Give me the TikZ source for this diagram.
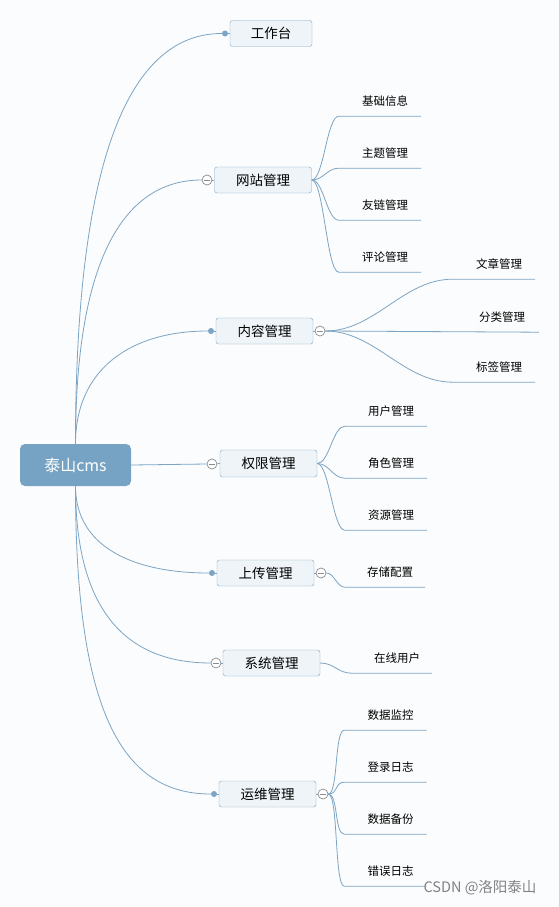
\documentclass[tikz,border=0pt]{standalone}
\usepackage{fontspec}
\setmainfont{Noto Sans CJK SC}
\usetikzlibrary{positioning}
\definecolor{linkc}{RGB}{124,164,196}
\definecolor{boxfill}{RGB}{238,244,248}
\definecolor{boxline}{RGB}{126,166,197}
\definecolor{rootfill}{RGB}{118,163,195}
\definecolor{knobc}{RGB}{140,140,140}
\definecolor{bgc}{RGB}{251,252,253}
\definecolor{markc}{RGB}{130,130,130}

\begin{document}
\begin{tikzpicture}[
x=1pt, y=-1pt,
every node/.style={font=\fontsize{11.5}{13}\selectfont},
root/.style={fill=rootfill, text=white, rounded corners=5pt, minimum width=111pt, minimum height=42pt, inner sep=0pt, font=\fontsize{16}{18}\selectfont},
topic/.style={draw=boxline, fill=boxfill, rounded corners=2.5pt, minimum width=97pt, minimum height=26pt, inner sep=0pt, font=\fontsize{13.5}{15}\selectfont},
leaf/.style={minimum width=82pt, minimum height=30pt, inner sep=0pt, execute at begin node={\hspace*{10pt}}},
dotc/.style={circle, fill=linkc, minimum size=6pt, inner sep=0pt},
knob/.style={circle, draw=knobc, fill=white, minimum size=10pt, inner sep=0pt, line width=0.7pt,
  path picture={\draw[knobc, line width=0.7pt] ([xshift=-3pt]path picture bounding box.center) -- ([xshift=3pt]path picture bounding box.center);}},
link/.style={draw=linkc, line width=0.8pt}
]
\fill[bgc] (0,0) rectangle (559,907);

\node[root] (root) at (75.5,465) {泰山cms};

\node[topic, minimum width=82pt] (work) at (271,33.5) {工作台};
\node[topic] (site) at (263,180) {网站管理};
\node[topic] (content) at (264.5,331) {内容管理};
\node[topic, minimum height=27pt] (perm) at (268.5,463.5) {权限管理};
\node[topic] (upload) at (265.5,573) {上传管理};
\node[topic] (sys) at (271.5,663) {系统管理};
\node[topic] (ops) at (267.5,794) {运维管理};

\node[dotc] (work-d) at (225,33.5) {};
\node[knob] (site-k) at (207,180) {};
\node[dotc] (content-d) at (211,331) {};
\node[knob] (content-k) at (320,331) {};
\node[knob] (perm-k) at (212,464) {};
\node[dotc] (upload-d) at (212,573) {};
\node[knob] (upload-k) at (321,573) {};
\node[knob] (sys-k) at (216,663) {};
\node[dotc] (ops-d) at (214,794) {};
\node[knob] (ops-k) at (323,794) {};

\node[leaf] (base) at (380,101) {基础信息};
\node[leaf] (theme) at (380,153) {主题管理};
\node[leaf] (friend) at (380,205) {友链管理};
\node[leaf] (comment) at (380,257) {评论管理};
\node[leaf] (article) at (494,264) {文章管理};
\node[leaf, minimum width=84pt] (category) at (497,317) {分类管理};
\node[leaf] (tag) at (494,367) {标签管理};
\node[leaf] (user) at (386,411) {用户管理};
\node[leaf] (role) at (386,463) {角色管理};
\node[leaf] (res) at (386,515) {资源管理};
\node[leaf, minimum width=80pt] (store) at (385,572) {存储配置};
\node[leaf, minimum width=80pt] (online) at (392,658) {在线用户};
\node[leaf] (monitor) at (385.5,715) {数据监控};
\node[leaf] (login) at (385.5,767) {登录日志};
\node[leaf] (backup) at (385.5,819) {数据备份};
\node[leaf] (errlog) at (385.5,871) {错误日志};

\node[text=markc, font=\fontsize{14.5}{16}\selectfont] (mark) at (480,888) {CSDN @洛阳泰山};

\draw[link] (root.north) .. controls +(0,-300) and +(-90,0) .. (work-d);
\draw[link] (root.north) .. controls +(0,-190) and +(-75,0) .. (site-k.west);
\draw[link] (root.north) .. controls +(0,-75) and +(-80,0) .. (content-d);
\draw[link] (root.east) -- (perm-k.west);
\draw[link] (root.south) .. controls +(0,60) and +(-80,0) .. (upload-d);
\draw[link] (root.south) .. controls +(0,130) and +(-80,0) .. (sys-k.west);
\draw[link] (root.south) .. controls +(0,230) and +(-90,0) .. (ops-d);

\draw[link] (work-d) -- (work.west);
\draw[link] (site-k) -- (site.west);
\draw[link] (content-d) -- (content.west);
\draw[link] (content.east) -- (content-k);
\draw[link] (perm-k) -- (perm.west);
\draw[link] (upload-d) -- (upload.west);
\draw[link] (upload.east) -- (upload-k);
\draw[link] (sys-k) -- (sys.west);
\draw[link] (ops-d) -- (ops.west);
\draw[link] (ops.east) -- (ops-k);

\draw[link] (site.east) .. controls +(12,0) and +(-12,0) .. (base.south west) -- (base.south east);
\draw[link] (site.east) .. controls +(12,0) and +(-12,0) .. (theme.south west) -- (theme.south east);
\draw[link] (site.east) .. controls +(12,0) and +(-12,0) .. (friend.south west) -- (friend.south east);
\draw[link] (site.east) .. controls +(12,0) and +(-12,0) .. (comment.south west) -- (comment.south east);

\draw[link] (content-k.east) .. controls +(50,0) and +(-50,0) .. (article.south west) -- (article.south east);
\draw[link] (content-k.east) -- (category.south east);
\draw[link] (content-k.east) .. controls +(50,0) and +(-50,0) .. (tag.south west) -- (tag.south east);

\draw[link] (perm.east) .. controls +(12,0) and +(-12,0) .. (user.south west) -- (user.south east);
\draw[link] (perm.east) .. controls +(12,0) and +(-12,0) .. (role.south west) -- (role.south east);
\draw[link] (perm.east) .. controls +(12,0) and +(-12,0) .. (res.south west) -- (res.south east);

\draw[link] (upload-k.east) .. controls +(8,0) and +(-8,0) .. (store.south west) -- (store.south east);
\draw[link] (sys.east) .. controls +(14,0) and +(-14,0) .. (online.south west) -- (online.south east);

\draw[link] (ops-k.east) .. controls +(10,0) and +(-10,0) .. (monitor.south west) -- (monitor.south east);
\draw[link] (ops-k.east) .. controls +(10,0) and +(-10,0) .. (login.south west) -- (login.south east);
\draw[link] (ops-k.east) .. controls +(10,0) and +(-10,0) .. (backup.south west) -- (backup.south east);
\draw[link] (ops-k.east) .. controls +(10,0) and +(-10,0) .. (errlog.south west) -- (errlog.south east);
\end{tikzpicture}
\end{document}
